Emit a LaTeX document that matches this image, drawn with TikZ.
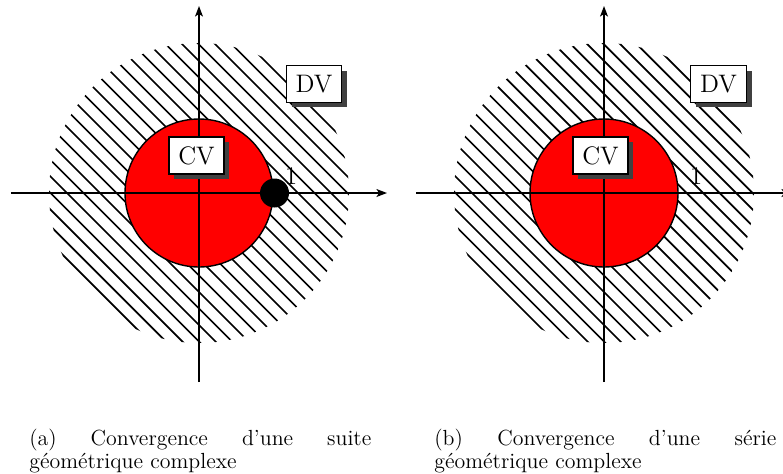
\documentclass[tikz,border=0pt]{standalone}
\usepackage{tikz}
\usetikzlibrary{arrows.meta, shadows}

\tikzset{
  cadre/.style={draw, line width=0.8pt, fill=white, inner sep=5.3pt, font=\Large,
    drop shadow={shadow xshift=3pt, shadow yshift=-3pt, fill=black!75, opacity=1}},
  axe/.style={line width=0.9pt, -{Stealth[length=6pt, width=4.5pt, inset=1.5pt]}},
  hachure/.style={line width=1pt},
  legende/.style={anchor=base west, inner sep=0pt, text width=6.84cm, align=left,
    font=\fontsize{12.45}{13.1}\selectfont},
}

\begin{document}
\begin{tikzpicture}
  \useasboundingbox (-3.98,-5.6) rectangle (11.68,3.86);
  % (a) suite geometrique
  \begin{scope}
    % zone de divergence
    \begin{scope}
      \clip (0,0) circle (3);
      \foreach \k in {-14,...,14}
        \draw[hachure] (\k*0.33-4,4) -- (\k*0.33+4,-4);
    \end{scope}
    % zone de convergence
    \draw[fill=red, line width=0.8pt] (0,0) circle (1.48);
    % axes
    \draw[axe] (-3.76,0) -- (3.76,0);
    \draw[axe] (0,-3.78) -- (0,3.74);
    \node[cadre] (CVa) at (-0.05,0.75) {CV};
    \node[cadre] (DVa) at (2.3,2.18) {DV};
    \node[circle, fill, inner sep=0pt, minimum size=0.58cm] (pta) at (1.51,0) {};
    \node[font=\Large, inner sep=0pt] (una) at (1.84,0.34) {1};
    \node[legende] (lga) at (-3.40,-5.04)
      {(a)\hfill Convergence\hfill d'une\hfill suite\\géométrique complexe};
  \end{scope}
  % (b) serie geometrique
  \begin{scope}[xshift=8.1cm]
    % zone de divergence
    \begin{scope}
      \clip (0,0) circle (3);
      \foreach \k in {-14,...,14}
        \draw[hachure] (\k*0.33-4,4) -- (\k*0.33+4,-4);
    \end{scope}
    % zone de convergence
    \draw[fill=red, line width=0.8pt] (0,0) circle (1.48);
    % axes
    \draw[axe] (-3.76,0) -- (3.76,0);
    \draw[axe] (0,-3.78) -- (0,3.74);
    \node[cadre] (CVb) at (-0.07,0.75) {CV};
    \node[cadre] (DVb) at (2.29,2.18) {DV};
    \node[font=\Large, inner sep=0pt] (unb) at (1.84,0.34) {1};
    \node[legende] (lgb) at (-3.40,-5.04)
      {(b)\hfill Convergence\hfill d'une\hfill série\\géométrique complexe};
  \end{scope}
\end{tikzpicture}
\end{document}
